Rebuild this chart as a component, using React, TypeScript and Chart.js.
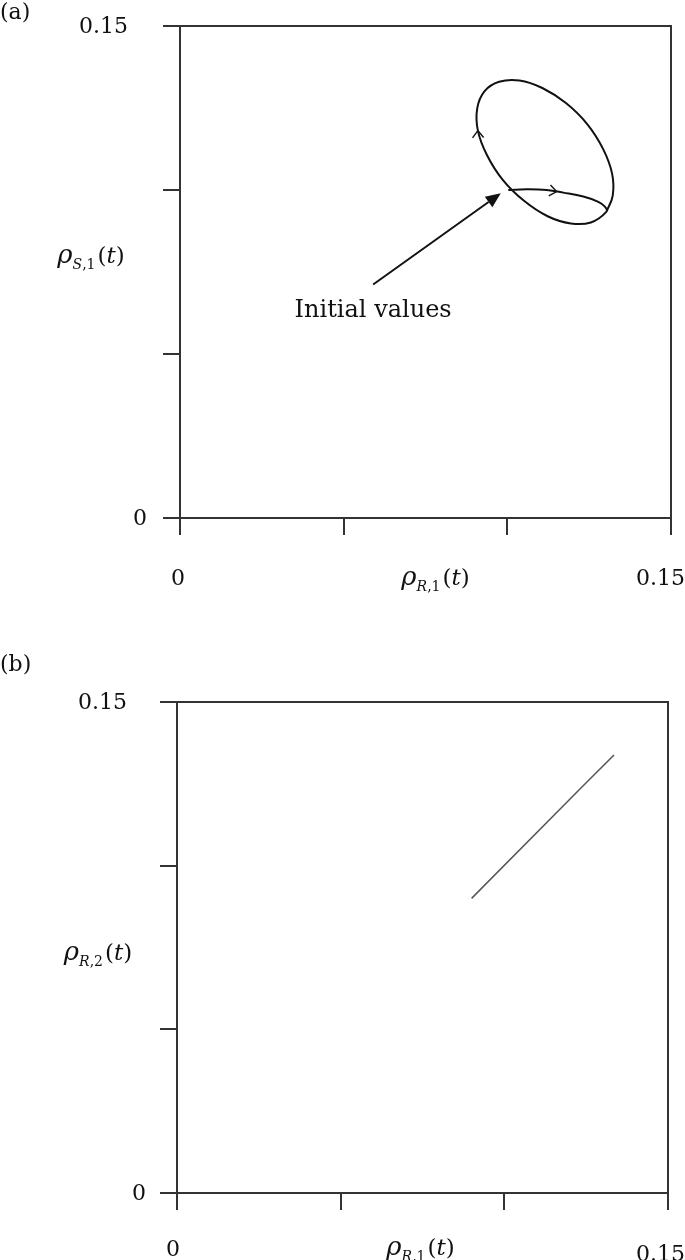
import React, { useEffect, useRef } from 'react';
import { Chart, registerables } from 'chart.js';

Chart.register(...registerables);

// ---------- data ----------
const axisTicks = [0, 0.05, 0.1, 0.15];
const xTickLabels = ['0', '', '', '0.15'];
const yTickLabels = ['0', '', '', '0.15'];

// Panel (a): trajectory in the (rho_R1, rho_S1) plane, starting at the initial values,
// running to the limit cycle and once round it
const rhoR1_a = [
  0.1003, 0.1059, 0.1120, 0.1171, 0.1232, 0.1278, 0.1298, 0.1303,
  0.1255, 0.1194, 0.1123, 0.1051, 0.0986, 0.0938, 0.0910, 0.0908,
  0.0930, 0.0975, 0.1037, 0.1107, 0.1179, 0.1244, 0.1292, 0.1320,
  0.1322, 0.1303,
];
const rhoS1_a = [
  0.1000, 0.1002, 0.1000, 0.0992, 0.0980, 0.0964, 0.0949, 0.0934,
  0.0901, 0.0898, 0.0920, 0.0967, 0.1031, 0.1106, 0.1181, 0.1249,
  0.1301, 0.1330, 0.1334, 0.1311, 0.1265, 0.1201, 0.1126, 0.1050,
  0.0983, 0.0934,
];
// positions (fractional index along the trajectory) of the direction chevrons
const directionMarks_a = [2.6, 14.0];
// annotation arrow (data coordinates)
const annotationTail = [0.0590, 0.0712];
const annotationHead = [0.0980, 0.0990];
const annotationTextPos = [0.0590, 0.0632];
const annotationText = 'Initial values';

// Panel (b): rho_R2 against rho_R1
const rhoR1_b = [0.0900, 0.1231, 0.1335];
const rhoR2_b = [0.0900, 0.1234, 0.1338];

// ---------- drawing helpers ----------
const SERIF = '"DejaVu Serif", "Liberation Serif", serif';
const INK = '#111';
const AXIS = '#333';

function drawRho(ctx: CanvasRenderingContext2D, cx: number, cy: number, sub: string) {
  const pieces: [string, string, number][] = [
    ['ρ', `italic 26px ${SERIF}`, 0],
    [sub[0], `italic 14px ${SERIF}`, 6],
    [sub.slice(1), `14px ${SERIF}`, 6],
    ['(', `23px ${SERIF}`, 0],
    ['t', `italic 23px ${SERIF}`, 0],
    [')', `23px ${SERIF}`, 0],
  ];
  let total = 0;
  const widths = pieces.map(([t, f]) => {
    ctx.font = f;
    const w = ctx.measureText(t).width;
    total += w;
    return w;
  });
  total += 2;
  let x = cx - total / 2;
  const base = cy + 7;
  ctx.textAlign = 'left';
  ctx.textBaseline = 'alphabetic';
  ctx.fillStyle = INK;
  pieces.forEach(([t, f, dy], i) => {
    ctx.font = f;
    ctx.fillText(t, x, base + dy);
    x += widths[i] + (i === 2 ? 2 : 0);
  });
}

type PanelCfg = {
  key: string;
  top: number;
  height: number;
  padTop: number;
  padRight: number;
  yWidth: number;
  xHeight: number;
  xs: number[];
  ys: number[];
  lineColor: string;
  lineWidth: number;
  tension: number;
  panelLabel: string;
  panelLabelY: number;
  yTitle: string;
  xTitle: string;
  yTitleDx: number;
  yTitleDy: number;
  xTitleDx: number;
  xTitleDy: number;
  yTickTopDx: number;
  yTickZeroDx: number;
  xTickZeroDx: number;
  xTickZeroDy: number;
  xTickMaxDy: number;
  annotate: boolean;
};

const panels: PanelCfg[] = [
  {
    key: 'a', top: 0, height: 630, padTop: 26, padRight: 14, yWidth: 180, xHeight: 112,
    xs: rhoR1_a, ys: rhoS1_a, lineColor: '#111', lineWidth: 2, tension: 0.4,
    panelLabel: '(a)', panelLabelY: 13,
    yTitle: 'S,1', xTitle: 'R,1',
    yTitleDx: -89, yTitleDy: -16, xTitleDx: 10, xTitleDy: 60,
    yTickTopDx: -52, yTickZeroDx: -33, xTickZeroDx: -2, xTickZeroDy: 61, xTickMaxDy: 61,
    annotate: true,
  },
  {
    key: 'b', top: 640, height: 620, padTop: 62, padRight: 17, yWidth: 177, xHeight: 67,
    xs: rhoR1_b, ys: rhoR2_b, lineColor: '#555', lineWidth: 1.5, tension: 0,
    panelLabel: '(b)', panelLabelY: 25,
    yTitle: 'R,2', xTitle: 'R,1',
    yTitleDx: -79, yTitleDy: 5, xTitleDx: -2, xTitleDy: 55,
    yTickTopDx: -50, yTickZeroDx: -31, xTickZeroDx: -4, xTickZeroDy: 57, xTickMaxDy: 62,
    annotate: false,
  },
];

function makePlugin(cfg: PanelCfg) {
  return {
    id: 'decor_' + cfg.key,
    afterDraw(chart: any) {
      const ctx: CanvasRenderingContext2D = chart.ctx;
      const { left, right, top, bottom } = chart.chartArea;
      const xs = chart.scales.x;
      const ys = chart.scales.y;
      ctx.save();
      // top and right frame
      ctx.strokeStyle = AXIS;
      ctx.lineWidth = 2;
      ctx.beginPath();
      ctx.moveTo(left - 1, top);
      ctx.lineTo(right, top);
      ctx.lineTo(right, bottom);
      ctx.stroke();

      if (cfg.annotate) {
        // direction chevrons on the trajectory
        ctx.strokeStyle = '#111';
        ctx.lineWidth = 1.4;
        directionMarks_a.forEach((f) => {
          const i = Math.floor(f);
          const fr = f - i;
          const x0 = xs.getPixelForValue(cfg.xs[i]);
          const y0 = ys.getPixelForValue(cfg.ys[i]);
          const x1 = xs.getPixelForValue(cfg.xs[i + 1]);
          const y1 = ys.getPixelForValue(cfg.ys[i + 1]);
          const mx = x0 + (x1 - x0) * fr;
          const my = y0 + (y1 - y0) * fr;
          const th = Math.atan2(y1 - y0, x1 - x0);
          const L = 9;
          const a = (38 * Math.PI) / 180;
          ctx.beginPath();
          ctx.moveTo(mx + L * Math.cos(th + Math.PI - a), my + L * Math.sin(th + Math.PI - a));
          ctx.lineTo(mx, my);
          ctx.lineTo(mx + L * Math.cos(th + Math.PI + a), my + L * Math.sin(th + Math.PI + a));
          ctx.stroke();
        });

        // annotation arrow
        const tx = xs.getPixelForValue(annotationTail[0]);
        const ty = ys.getPixelForValue(annotationTail[1]);
        const hx = xs.getPixelForValue(annotationHead[0]);
        const hy = ys.getPixelForValue(annotationHead[1]);
        const th = Math.atan2(hy - ty, hx - tx);
        const HL = 15;
        const HW = 6.5;
        const bx = hx - HL * Math.cos(th);
        const by = hy - HL * Math.sin(th);
        ctx.strokeStyle = '#111';
        ctx.lineWidth = 2;
        ctx.beginPath();
        ctx.moveTo(tx, ty);
        ctx.lineTo(bx, by);
        ctx.stroke();
        ctx.fillStyle = '#111';
        ctx.beginPath();
        ctx.moveTo(hx, hy);
        ctx.lineTo(bx + HW * Math.sin(th), by - HW * Math.cos(th));
        ctx.lineTo(bx - HW * Math.sin(th), by + HW * Math.cos(th));
        ctx.closePath();
        ctx.fill();

        ctx.font = `24px ${SERIF}`;
        ctx.fillStyle = INK;
        ctx.textAlign = 'center';
        ctx.textBaseline = 'middle';
        ctx.fillText(
          annotationText,
          xs.getPixelForValue(annotationTextPos[0]),
          ys.getPixelForValue(annotationTextPos[1])
        );
      }

      // tick labels
      ctx.font = `22px ${SERIF}`;
      ctx.fillStyle = INK;
      ctx.textBaseline = 'middle';
      axisTicks.forEach((v, i) => {
        const lab = yTickLabels[i];
        if (!lab) return;
        const py = ys.getPixelForValue(v) + 1;
        ctx.textAlign = 'right';
        ctx.fillText(lab, left + (i === 0 ? cfg.yTickZeroDx : cfg.yTickTopDx), py);
      });
      axisTicks.forEach((v, i) => {
        const lab = xTickLabels[i];
        if (!lab) return;
        const px = xs.getPixelForValue(v);
        if (i === 0) {
          ctx.textAlign = 'center';
          ctx.fillText(lab, px + cfg.xTickZeroDx, bottom + cfg.xTickZeroDy);
        } else {
          ctx.textAlign = 'right';
          ctx.fillText(lab, chart.width, bottom + cfg.xTickMaxDy);
        }
      });

      // axis titles
      drawRho(ctx, left + cfg.yTitleDx, (top + bottom) / 2 + cfg.yTitleDy, cfg.yTitle);
      drawRho(ctx, (left + right) / 2 + cfg.xTitleDx, bottom + cfg.xTitleDy, cfg.xTitle);

      // panel label
      ctx.font = `22px ${SERIF}`;
      ctx.textAlign = 'left';
      ctx.textBaseline = 'middle';
      ctx.fillStyle = INK;
      ctx.fillText(cfg.panelLabel, 0, cfg.panelLabelY);
      ctx.restore();
    },
  };
}

function axisOptions(cfg: PanelCfg, horizontal: boolean) {
  return {
    type: 'linear',
    min: axisTicks[0],
    max: axisTicks[axisTicks.length - 1],
    afterBuildTicks: (s: any) => {
      s.ticks = axisTicks.map((v) => ({ value: v }));
    },
    afterFit: (s: any) => {
      if (horizontal) s.height = cfg.xHeight;
      else s.width = cfg.yWidth;
    },
    ticks: { display: false },
    grid: {
      display: true,
      drawOnChartArea: false,
      drawTicks: true,
      tickLength: 17,
      color: AXIS,
      lineWidth: 2,
    },
    border: { display: true, color: AXIS, width: 2 },
  };
}

function Panel({ cfg }: { cfg: PanelCfg }) {
  const ref = useRef<HTMLCanvasElement>(null);
  useEffect(() => {
    if (!ref.current) return;
    const points = cfg.xs.map((x, i) => ({ x, y: cfg.ys[i] }));
    const chart = new Chart(ref.current, {
      type: 'scatter',
      data: {
        datasets: [
          {
            data: points,
            showLine: true,
            borderColor: cfg.lineColor,
            borderWidth: cfg.lineWidth,
            tension: cfg.tension,
            pointRadius: 0,
            fill: false,
          },
        ],
      },
      options: {
        animation: false,
        responsive: false,
        devicePixelRatio: 1,
        events: [],
        layout: { padding: { top: cfg.padTop, right: cfg.padRight, left: 0, bottom: 0 } },
        plugins: { legend: { display: false }, tooltip: { enabled: false } },
        scales: {
          x: axisOptions(cfg, true) as any,
          y: axisOptions(cfg, false) as any,
        },
      },
      plugins: [makePlugin(cfg)],
    } as any);
    return () => chart.destroy();
  }, [cfg]);
  return (
    <canvas
      ref={ref}
      width={685}
      height={cfg.height}
      style={{ position: 'absolute', left: 0, top: cfg.top, width: 685, height: cfg.height, display: 'block' }}
    />
  );
}

export default function App() {
  return (
    <div style={{ position: 'absolute', left: 0, top: 0, width: 685, height: 1260, background: '#fff', overflow: 'hidden' }}>
      {panels.map((p) => (
        <Panel key={p.key} cfg={p} />
      ))}
    </div>
  );
}
